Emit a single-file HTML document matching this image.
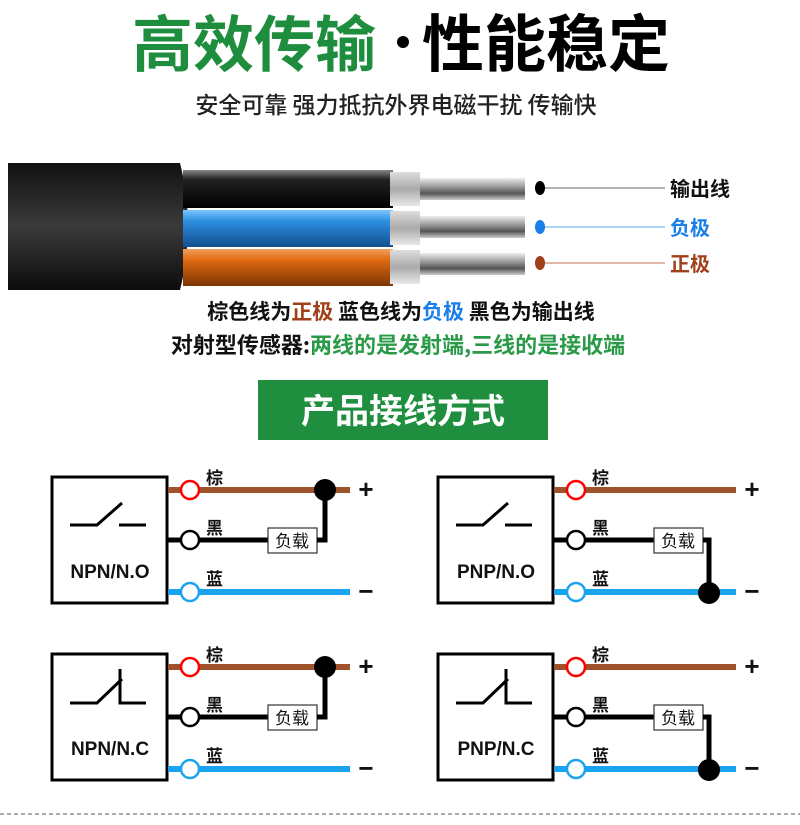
<!DOCTYPE html>
<html><head><meta charset="utf-8"><style>
html,body{margin:0;padding:0;background:#fff;}
svg{display:block;}
text{font-family:"Liberation Sans","Noto Sans CJK SC",sans-serif;}
.cj{font-family:"Noto Sans CJK SC","WenQuanYi Zen Hei",sans-serif;font-weight:700;}
.cr{font-family:"Noto Sans CJK SC","WenQuanYi Zen Hei",sans-serif;font-weight:400;}
.cm{font-family:"Noto Sans CJK SC","WenQuanYi Zen Hei",sans-serif;font-weight:500;}
</style></head><body>
<svg width="800" height="825" viewBox="0 0 800 825" xmlns="http://www.w3.org/2000/svg">
<defs>
<linearGradient id="jk" x1="0" y1="0" x2="0" y2="1"><stop offset="0" stop-color="#111"/><stop offset="0.5" stop-color="#3a3a3a"/><stop offset="1" stop-color="#0c0c0c"/></linearGradient>
<linearGradient id="bk" x1="0" y1="0" x2="0" y2="1"><stop offset="0" stop-color="#888"/><stop offset="0.25" stop-color="#222"/><stop offset="1" stop-color="#000"/></linearGradient>
<linearGradient id="bl" x1="0" y1="0" x2="0" y2="1"><stop offset="0" stop-color="#7cc6ff"/><stop offset="0.3" stop-color="#2c8fe0"/><stop offset="1" stop-color="#134f8f"/></linearGradient>
<linearGradient id="or" x1="0" y1="0" x2="0" y2="1"><stop offset="0" stop-color="#f0a060"/><stop offset="0.3" stop-color="#e06a10"/><stop offset="1" stop-color="#7a3405"/></linearGradient>
<linearGradient id="sv" x1="0" y1="0" x2="0" y2="1"><stop offset="0" stop-color="#eee"/><stop offset="0.4" stop-color="#999"/><stop offset="0.7" stop-color="#555"/><stop offset="1" stop-color="#ccc"/></linearGradient>
<linearGradient id="fr" x1="0" y1="0" x2="0" y2="1"><stop offset="0" stop-color="#ddd"/><stop offset="0.5" stop-color="#aaa"/><stop offset="1" stop-color="#e8e8e8"/></linearGradient>
</defs>

<text x="132" y="66" class="cj" font-size="61" fill="#1e8d3e">高效传输</text>
<circle cx="403" cy="42" r="6" fill="#000"/>
<text x="422" y="66" class="cj" font-size="62" fill="#000">性能稳定</text>
<text x="396" y="113" class="cm" font-size="23" fill="#222" text-anchor="middle">安全可靠 强力抵抗外界电磁干扰 传输快</text>

<path d="M8 163 H180 Q196 226 180 290 H8 Z" fill="url(#jk)"/>
<rect x="183" y="170" width="210" height="38" fill="url(#bk)"/>
<rect x="183" y="210" width="210" height="37" fill="url(#bl)"/>
<rect x="183" y="249" width="210" height="37" fill="url(#or)"/>
<rect x="390" y="172" width="30" height="34" fill="url(#fr)"/>
<rect x="390" y="211" width="30" height="34" fill="url(#fr)"/>
<rect x="390" y="250" width="30" height="34" fill="url(#fr)"/>
<rect x="420" y="178" width="105" height="22" fill="url(#sv)"/>
<rect x="420" y="216" width="105" height="22" fill="url(#sv)"/>
<rect x="420" y="253" width="105" height="22" fill="url(#sv)"/>
<ellipse cx="540" cy="188" rx="5" ry="7" fill="#000"/>
<ellipse cx="540" cy="227" rx="5" ry="7" fill="#1a7fe8"/>
<ellipse cx="540" cy="263" rx="5" ry="7" fill="#a0401a"/>
<line x1="545" y1="188" x2="665" y2="188" stroke="#666" stroke-width="1"/>
<line x1="545" y1="227" x2="665" y2="227" stroke="#5aa8f0" stroke-width="1"/>
<line x1="545" y1="263" x2="665" y2="263" stroke="#c07050" stroke-width="1"/>
<text x="670" y="196" class="cj" font-size="20" fill="#111">输出线</text>
<text x="670" y="235" class="cj" font-size="20" fill="#1a7fe8">负极</text>
<text x="670" y="271" class="cj" font-size="20" fill="#a0401a">正极</text>

<text x="401" y="319" class="cj" font-size="21" text-anchor="middle" fill="#111">棕色线为<tspan fill="#a0401a">正极</tspan> 蓝色线为<tspan fill="#1a7fe8">负极</tspan> 黑色为输出线</text>
<text x="398" y="353" class="cj" font-size="22" text-anchor="middle" fill="#111">对射型传感器:<tspan fill="#2a9a48">两线的是发射端,三线的是接收端</tspan></text>

<rect x="258" y="380" width="290" height="60" fill="#1f8f3f"/>
<text x="403" y="423" class="cj" font-size="34" fill="#fff" text-anchor="middle">产品接线方式</text>

<!-- NPN/N.O -->
<g>
<rect x="52" y="477" width="115" height="126" fill="none" stroke="#000" stroke-width="3"/>
<line x1="168" y1="490" x2="350" y2="490" stroke="#a0522d" stroke-width="6"/>
<line x1="168" y1="540" x2="268" y2="540" stroke="#000" stroke-width="5"/>
<line x1="168" y1="592" x2="350" y2="592" stroke="#1aa3ef" stroke-width="6"/>
<circle cx="190" cy="490" r="9" fill="#fff" stroke="#f00" stroke-width="2.5"/>
<circle cx="190" cy="540" r="9" fill="#fff" stroke="#000" stroke-width="2.5"/>
<circle cx="190" cy="592" r="9" fill="#fff" stroke="#1aa3ef" stroke-width="2.5"/>
<text x="206" y="484" class="cj" font-size="17" fill="#111">棕</text>
<text x="206" y="534" class="cj" font-size="17" fill="#111">黑</text>
<text x="206" y="585" class="cj" font-size="17" fill="#111">蓝</text>
<polyline points="70,525 97,525 122,503" fill="none" stroke="#000" stroke-width="3"/>
<line x1="119" y1="525" x2="146" y2="525" stroke="#000" stroke-width="3"/>
<text x="110" y="578" font-size="19" text-anchor="middle" fill="#111" font-weight="bold">NPN/N.O</text>
<rect x="268" y="528" width="49" height="25" fill="#fff" stroke="#333" stroke-width="1.2"/>
<text x="292" y="547" class="cr" font-size="17" text-anchor="middle" fill="#111">负载</text>
<polyline points="317,540 325,540 325,490" fill="none" stroke="#000" stroke-width="5"/>
<circle cx="325" cy="490" r="11" fill="#000"/>
<text x="366" y="498" font-size="26" text-anchor="middle" fill="#111" font-weight="bold">+</text>
<text x="366" y="600" font-size="26" text-anchor="middle" fill="#111" font-weight="bold">−</text>
</g>

<!-- PNP/N.O -->
<g transform="translate(386,0)">
<rect x="52" y="477" width="115" height="126" fill="none" stroke="#000" stroke-width="3"/>
<line x1="168" y1="490" x2="350" y2="490" stroke="#a0522d" stroke-width="6"/>
<line x1="168" y1="540" x2="268" y2="540" stroke="#000" stroke-width="5"/>
<line x1="168" y1="592" x2="350" y2="592" stroke="#1aa3ef" stroke-width="6"/>
<circle cx="190" cy="490" r="9" fill="#fff" stroke="#f00" stroke-width="2.5"/>
<circle cx="190" cy="540" r="9" fill="#fff" stroke="#000" stroke-width="2.5"/>
<circle cx="190" cy="592" r="9" fill="#fff" stroke="#1aa3ef" stroke-width="2.5"/>
<text x="206" y="484" class="cj" font-size="17" fill="#111">棕</text>
<text x="206" y="534" class="cj" font-size="17" fill="#111">黑</text>
<text x="206" y="585" class="cj" font-size="17" fill="#111">蓝</text>
<polyline points="70,525 97,525 122,503" fill="none" stroke="#000" stroke-width="3"/>
<line x1="119" y1="525" x2="146" y2="525" stroke="#000" stroke-width="3"/>
<text x="110" y="578" font-size="19" text-anchor="middle" fill="#111" font-weight="bold">PNP/N.O</text>
<rect x="268" y="528" width="49" height="25" fill="#fff" stroke="#333" stroke-width="1.2"/>
<text x="292" y="547" class="cr" font-size="17" text-anchor="middle" fill="#111">负载</text>
<polyline points="317,540 323,540 323,592" fill="none" stroke="#000" stroke-width="5"/>
<circle cx="323" cy="593" r="11" fill="#000"/>
<text x="366" y="498" font-size="26" text-anchor="middle" fill="#111" font-weight="bold">+</text>
<text x="366" y="600" font-size="26" text-anchor="middle" fill="#111" font-weight="bold">−</text>
</g>

<!-- NPN/N.C -->
<g transform="translate(0,177)">
<rect x="52" y="477" width="115" height="126" fill="none" stroke="#000" stroke-width="3"/>
<line x1="168" y1="490" x2="350" y2="490" stroke="#a0522d" stroke-width="6"/>
<line x1="168" y1="540" x2="268" y2="540" stroke="#000" stroke-width="5"/>
<line x1="168" y1="592" x2="350" y2="592" stroke="#1aa3ef" stroke-width="6"/>
<circle cx="190" cy="490" r="9" fill="#fff" stroke="#f00" stroke-width="2.5"/>
<circle cx="190" cy="540" r="9" fill="#fff" stroke="#000" stroke-width="2.5"/>
<circle cx="190" cy="592" r="9" fill="#fff" stroke="#1aa3ef" stroke-width="2.5"/>
<text x="206" y="484" class="cj" font-size="17" fill="#111">棕</text>
<text x="206" y="534" class="cj" font-size="17" fill="#111">黑</text>
<text x="206" y="585" class="cj" font-size="17" fill="#111">蓝</text>
<polyline points="70,526 97,526 122,502" fill="none" stroke="#000" stroke-width="3"/>
<polyline points="120,492 120,526 146,526" fill="none" stroke="#000" stroke-width="3"/>
<text x="110" y="578" font-size="19" text-anchor="middle" fill="#111" font-weight="bold">NPN/N.C</text>
<rect x="268" y="528" width="49" height="25" fill="#fff" stroke="#333" stroke-width="1.2"/>
<text x="292" y="547" class="cr" font-size="17" text-anchor="middle" fill="#111">负载</text>
<polyline points="317,540 325,540 325,490" fill="none" stroke="#000" stroke-width="5"/>
<circle cx="325" cy="490" r="11" fill="#000"/>
<text x="366" y="498" font-size="26" text-anchor="middle" fill="#111" font-weight="bold">+</text>
<text x="366" y="600" font-size="26" text-anchor="middle" fill="#111" font-weight="bold">−</text>
</g>

<!-- PNP/N.C -->
<g transform="translate(386,177)">
<rect x="52" y="477" width="115" height="126" fill="none" stroke="#000" stroke-width="3"/>
<line x1="168" y1="490" x2="350" y2="490" stroke="#a0522d" stroke-width="6"/>
<line x1="168" y1="540" x2="268" y2="540" stroke="#000" stroke-width="5"/>
<line x1="168" y1="592" x2="350" y2="592" stroke="#1aa3ef" stroke-width="6"/>
<circle cx="190" cy="490" r="9" fill="#fff" stroke="#f00" stroke-width="2.5"/>
<circle cx="190" cy="540" r="9" fill="#fff" stroke="#000" stroke-width="2.5"/>
<circle cx="190" cy="592" r="9" fill="#fff" stroke="#1aa3ef" stroke-width="2.5"/>
<text x="206" y="484" class="cj" font-size="17" fill="#111">棕</text>
<text x="206" y="534" class="cj" font-size="17" fill="#111">黑</text>
<text x="206" y="585" class="cj" font-size="17" fill="#111">蓝</text>
<polyline points="70,526 97,526 122,502" fill="none" stroke="#000" stroke-width="3"/>
<polyline points="120,492 120,526 146,526" fill="none" stroke="#000" stroke-width="3"/>
<text x="110" y="578" font-size="19" text-anchor="middle" fill="#111" font-weight="bold">PNP/N.C</text>
<rect x="268" y="528" width="49" height="25" fill="#fff" stroke="#333" stroke-width="1.2"/>
<text x="292" y="547" class="cr" font-size="17" text-anchor="middle" fill="#111">负载</text>
<polyline points="317,540 323,540 323,592" fill="none" stroke="#000" stroke-width="5"/>
<circle cx="323" cy="593" r="11" fill="#000"/>
<text x="366" y="498" font-size="26" text-anchor="middle" fill="#111" font-weight="bold">+</text>
<text x="366" y="600" font-size="26" text-anchor="middle" fill="#111" font-weight="bold">−</text>
</g>

<line x1="0" y1="814" x2="800" y2="814" stroke="#777" stroke-width="1.2" stroke-dasharray="4,3"/>
</svg>
</body></html>
